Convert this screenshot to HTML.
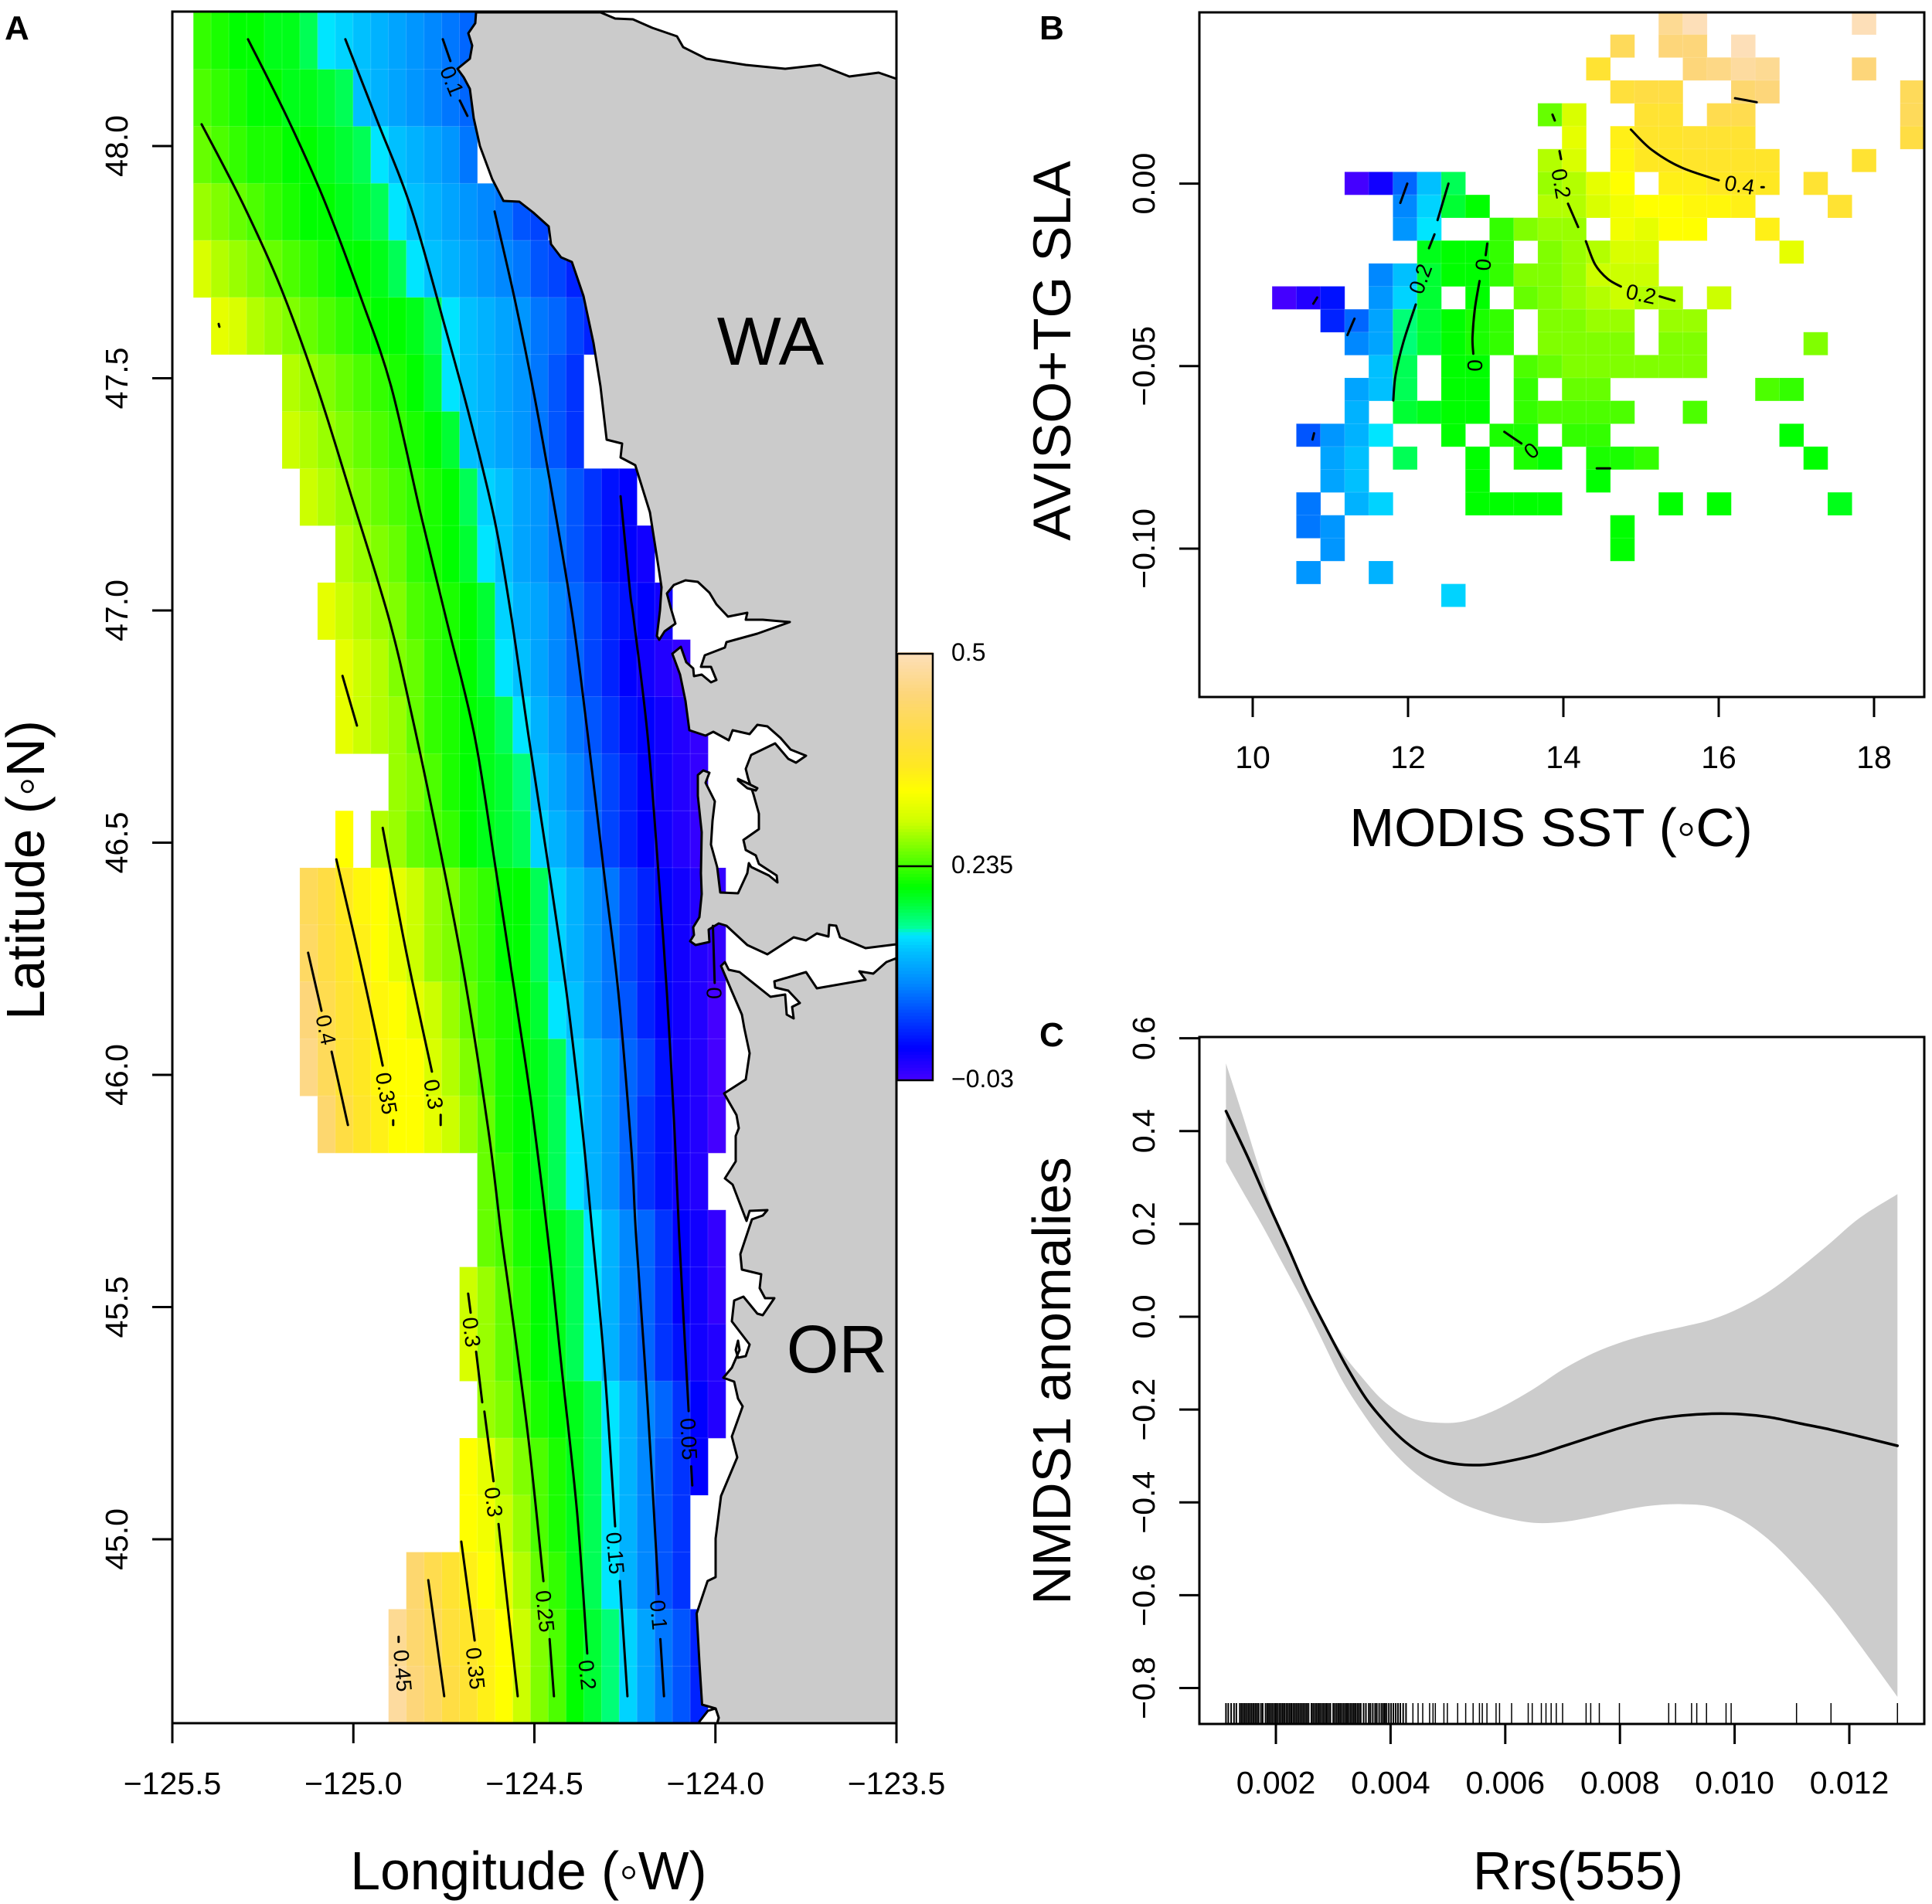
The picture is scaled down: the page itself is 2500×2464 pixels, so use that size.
<!DOCTYPE html>
<html lang="en">
<head>
<meta charset="utf-8">
<title>Ocean effect maps and smooth term</title>
<style>
html,body{margin:0;padding:0;background:#fff;}
body{width:2500px;height:2464px;overflow:hidden;}
svg{display:block;font-family:"Liberation Sans","DejaVu Sans",sans-serif;}
</style>
</head>
<body>
<svg id="chart" xmlns="http://www.w3.org/2000/svg" width="2500" height="2464" viewBox="0 0 2500 2464">
  <rect x="0" y="0" width="2500" height="2464" fill="#fff"/>
  <g id="panelA"></g>
  <g id="panelB"></g>
  <g id="panelC"></g>
</svg>
<script>
/* ---------- Shared colour scale ---------- */
const paletteValues = [-0.03,0.01,0.05,0.09,0.13,0.15,0.16,0.19,0.21,0.25,0.29,0.33,0.36,0.40,0.45,0.50];
const paletteColors = ['#4400ff','#0000ff','#0044ff','#0088ff','#00c0ff','#00e5ff','#00ff99','#00ff33','#00ff00','#66ff00','#ccff00','#ffff00','#ffe822','#ffdd44','#fdd67a','#fddfb8'];

/* ---------- Panel A data ---------- */
/* each row: first column index, then effect values x100 per cell (null = no data) */
const heatRowsA = [
[0,23,22,21,21,20,20,18,15,14,13,12,11,10,9,8,7],
[0,24,23,22,21,21,20,20,19,18,13,12,11,10,9,8,7],
[0,25,24,23,22,22,21,21,20,19,18,15,13,12,11,10,8],
[0,27,26,25,24,23,22,21,21,20,19,18,15,13,12,11,10,9,8,6,5],
[0,30,28,27,26,25,24,23,22,21,21,20,18,15,13,12,11,10,9,8,6,5,3],
[1,31,30,28,27,26,25,24,23,22,21,21,20,18,15,13,12,11,10,8,7,5,3],
[5,28,27,26,25,24,23,22,21,19,15,13,12,11,10,8,6,4],
[5,29,28,27,26,25,24,23,22,21,19,13,12,11,10,8,6,4],
[6,29,28,27,26,25,24,23,22,21,18,14,13,11,10,8,6,4,2,1],
[8,28,27,26,25,23,22,21,19,15,13,11,10,8,6,4,2,1,0],
[7,31,29,28,27,26,24,23,22,21,19,14,12,11,9,7,5,3,2,1,0],
[8,31,29,28,26,25,23,22,21,19,15,13,11,9,7,5,3,1,0,-1,-2],
[8,31,29,28,27,25,23,22,21,20,18,15,12,10,8,6,4,2,1,0,-1,-2],
[11,27,26,24,22,21,20,19,17,13,11,9,7,5,3,1,0,-1,-2],
[8,33,null,28,27,25,24,23,21,20,19,18,14,12,10,7,5,3,1,0,-1,-2],
[6,42,40,36,34,33,31,29,27,26,24,23,21,21,18,14,12,10,8,5,3,1,0,-1,-2],
[6,43,40,37,35,33,31,29,27,26,24,23,21,21,18,14,12,10,8,5,3,1,0,-1,-2],
[6,45,41,38,36,34,33,31,29,27,25,23,22,21,19,15,13,10,8,6,3,1,0,-1,-3],
[6,46,42,38,36,34,33,33,30,28,26,24,22,21,20,18,14,12,10,7,5,2,0,-1,-3],
[7,44,40,37,35,33,33,31,29,27,25,22,21,20,18,15,12,10,7,4,2,0,-1,-3],
[16,25,23,21,20,18,15,12,10,7,4,2,0,-1],
[16,25,24,22,21,20,18,15,12,9,7,4,1,0,-2],
[15,29,27,25,23,21,20,18,15,12,9,7,4,1,0,-2],
[15,30,27,25,23,21,20,18,15,12,9,7,4,2,0,-1],
[16,27,26,24,22,21,20,18,15,12,9,7,4,1,-1],
[15,33,31,28,26,24,22,20,18,15,12,9,6,4,1],
[15,33,32,29,27,24,22,20,18,15,12,9,6,4],
[12,44,41,38,35,33,31,28,25,23,20,18,15,12,9,6,4],
[11,47,44,42,39,37,35,33,29,26,24,21,19,17,14,11,8,6,3],
[11,48,45,43,40,38,35,33,29,26,24,21,19,17,14,11,8,6,3]
];
const lonTicks = [-125.5,-125,-124.5,-124,-123.5];
const lonTickLabels = ['\u2212125.5','\u2212125.0','\u2212124.5','\u2212124.0','\u2212123.5'];
const latTicks = [48,47.5,47,46.5,46,45.5,45];
const latTickLabels = ['48.0','47.5','47.0','46.5','46.0','45.5','45.0'];
const colorbarTicks = [0.5,0.235,-0.03];
const colorbarTickLabels = ['0.5','0.235','\u22120.03'];

const contourA25 = [
 [[-125.419,48.047],[-125.304,47.874],[-125.201,47.696],[-125.101,47.483],[-125.005,47.245],[-124.902,46.983],[-124.840,46.780],[-124.764,46.499],[-124.695,46.220],[-124.627,45.880],[-124.591,45.652],[-124.565,45.506],[-124.516,45.213],[-124.475,44.910]],
 [[-124.458,44.785],[-124.446,44.662]]
];
const contourA20 = [
 [[-125.291,48.230],[-125.182,48.060],[-125.080,47.882],[-124.977,47.669],[-124.896,47.483],[-124.815,47.211],[-124.744,46.983],[-124.665,46.729],[-124.606,46.440],[-124.546,46.135],[-124.507,45.930],[-124.463,45.652],[-124.426,45.378],[-124.382,45.057],[-124.354,44.754]]
];
const contourA15 = [
 [[-125.022,48.230],[-124.937,48.060],[-124.840,47.865],[-124.747,47.611],[-124.678,47.414],[-124.610,47.195],[-124.563,46.983],[-124.516,46.729],[-124.463,46.458],[-124.411,46.176],[-124.367,45.880],[-124.339,45.652],[-124.307,45.378],[-124.277,45.028]],
 [[-124.264,44.910],[-124.243,44.662]]
];
const contourA10 = [
 [[-124.610,47.859],[-124.554,47.669],[-124.501,47.466],[-124.446,47.228],[-124.394,46.983],[-124.352,46.729],[-124.307,46.431],[-124.268,46.176],[-124.232,45.837],[-124.219,45.652],[-124.187,45.286],[-124.157,44.882]],
 [[-124.152,44.785],[-124.142,44.662]],
 [[-124.753,48.230],[-124.732,48.183]],
 [[-124.706,48.098],[-124.685,48.065]]
];
const contourA05 = [
 [[-124.262,47.246],[-124.236,47.042],[-124.226,46.983],[-124.187,46.729],[-124.157,46.431],[-124.134,46.176],[-124.113,45.880],[-124.100,45.652],[-124.074,45.276]],
 [[-124.067,45.157],[-124.064,45.116]]
];
const contourA00 = [
 [[-124.007,46.321],[-124.002,46.198]]
];
const contourA30 = [
 [[-125.030,46.859],[-124.990,46.752]],
 [[-125.372,47.617],[-125.370,47.611]],
 [[-124.919,46.532],[-124.853,46.261],[-124.783,46.007]],
 [[-124.759,45.914],[-124.759,45.892]],
 [[-124.683,45.529],[-124.676,45.488]],
 [[-124.661,45.404],[-124.644,45.295]],
 [[-124.638,45.275],[-124.613,45.125]],
 [[-124.599,45.033],[-124.546,44.662]]
];
const contourA35 = [
 [[-125.047,46.464],[-124.979,46.236],[-124.919,46.020]],
 [[-124.890,45.902],[-124.890,45.892]],
 [[-124.702,44.995],[-124.665,44.782]]
];
const contourA40 = [
 [[-125.125,46.263],[-125.088,46.138]],
 [[-125.060,46.050],[-125.015,45.892]]
];
const contourA45 = [
 [[-124.793,44.912],[-124.749,44.662]],
 [[-124.875,44.790],[-124.875,44.779]]
];
const contourLabelsA = [
 ['0.1',-124.728,48.140,68],['0.4',-125.076,46.097,78],['0.35',-124.909,45.960,80],['0.3',-124.779,45.958,80],
 ['0',-124.004,46.176,90],['0.3',-124.674,45.446,83],['0.3',-124.613,45.080,83],['0.25',-124.471,44.845,84],
 ['0.2',-124.354,44.708,84],['0.15',-124.277,44.970,85],['0.1',-124.157,44.837,85],['0.05',-124.074,45.216,87],
 ['0.35',-124.663,44.722,84],['0.45',-124.864,44.717,85]
];

/* ---------- Panel B data ---------- */
/* per row from the top: alternating column index, effect value x100 */
const heatRowsB = [
[16,47,17,50,24,50],
[14,42,16,45,17,45,19,50],
[13,38,17,45,18,46,19,48,20,47,24,45],
[14,39,15,40,16,40,19,44,20,45,26,42],
[11,25,12,30,15,38,16,38,18,41,19,41,26,42],
[12,31,14,35,15,37,16,37,17,38,18,38,19,38,26,40],
[11,28,12,30,14,34,15,36,16,36,17,37,18,37,19,37,20,37,24,38],
[3,-3,4,0,5,7,6,13,7,18,11,27,12,28,13,31,14,33,16,35,17,35,18,36,19,36,20,36,22,38],
[5,9,6,14,7,19,8,21,11,28,12,28,13,30,14,32,15,33,16,33,17,34,18,34,19,35,23,38],
[5,10,6,15,9,23,10,26,11,27,12,27,14,32,15,31,16,33,17,33,20,35],
[6,20,7,21,8,21,9,23,11,26,12,27,13,28,14,30,15,30,21,31],
[4,9,5,13,6,19,7,21,8,21,9,23,10,26,11,26,12,27,13,29,14,29,15,29],
[0,-3,1,-1,2,2,4,10,5,14,6,19,8,21,10,25,11,26,12,27,13,28,14,29,15,28,16,28,18,29],
[2,3,3,7,4,11,5,17,6,19,7,21,8,22,9,23,11,26,12,26,13,27,14,27,16,27,17,27],
[3,9,4,11,5,17,6,19,7,21,8,22,9,23,11,26,12,26,13,26,14,26,16,26,17,26,22,26],
[4,13,5,18,7,21,8,21,10,24,11,25,12,26,13,26,14,26,15,26,16,26,17,26],
[3,11,4,13,5,18,7,21,8,21,10,23,12,25,13,25,20,24,21,23],
[3,12,5,19,6,20,7,21,8,21,10,23,11,24,12,24,13,24,14,24,17,24],
[1,6,2,10,3,12,4,15,7,21,9,22,10,22,12,23,13,23,21,21],
[2,11,3,13,5,18,8,21,10,22,11,21,13,22,14,22,15,23,22,21],
[2,11,3,13,8,21,13,21],
[1,8,3,12,4,14,8,21,9,21,10,21,11,21,16,21,18,21,23,20],
[1,8,2,10,14,21],
[2,10,14,21],
[1,10,4,12],
[7,14]
];
const sstTicks = [10,12,14,16,18];
const sstTickLabels = ['10','12','14','16','18'];
const slaTicks = [0,-0.05,-0.10];
const slaTickLabels = ['0.00','\u22120.05','\u22120.10'];
const contourB = [
 [[16.21,0.0234],[16.49,0.0223]],
 [[14.87,0.0148],[15.14,0.0092],[15.52,0.0044],[16.0,0.0009]],
 [[16.55,-0.001],[16.58,-0.001]],
 [[13.86,0.0189],[13.89,0.0173]],
 [[13.95,0.0089],[13.97,0.0067]],
 [[14.06,-0.0055],[14.19,-0.0119]],
 [[14.29,-0.0158],[14.41,-0.0222],[14.57,-0.0261],[14.74,-0.0282]],
 [[15.24,-0.0309],[15.43,-0.0321]],
 [[12.52,0],[12.38,-0.01]],
 [[12.34,-0.0139],[12.27,-0.0177]],
 [[12.1,-0.0331],[11.94,-0.0434],[11.84,-0.0524],[11.81,-0.0594]],
 [[11.99,0],[11.9,-0.0053]],
 [[10.83,-0.0312],[10.78,-0.0329]],
 [[11.31,-0.037],[11.22,-0.0415]],
 [[10.79,-0.0684],[10.77,-0.0701]],
 [[13.02,-0.0164],[13.0,-0.0196]],
 [[12.92,-0.0267],[12.86,-0.0344],[12.83,-0.0421],[12.84,-0.0466]],
 [[13.24,-0.068],[13.46,-0.0712]],
 [[14.43,-0.078],[14.6,-0.078]]
];
const contourLabelsB = [
 ['0.4',16.27,-0.0004,10],['0.2',13.97,0,80],['0.2',15.0,-0.0303,12],['0.2',12.16,-0.0261,-70],
 ['0',12.97,-0.0222,-85],['0',12.86,-0.0498,-90],['0',13.59,-0.0732,-40]
];

/* ---------- Panel C data ---------- */
const rrsValues = [0.00113,0.00151,0.00185,0.0022,0.00254,0.00289,0.00323,0.00357,0.00392,0.00426,0.00461,0.00495,0.00529,0.00564,0.00598,0.0065,0.00701,0.00753,0.00805,0.00856,0.00908,0.0096,0.01011,0.01063,0.01114,0.01166,0.01218,0.01284];
const smoothFit = [0.443,0.344,0.248,0.153,0.057,-0.028,-0.107,-0.176,-0.229,-0.270,-0.299,-0.313,-0.319,-0.319,-0.313,-0.299,-0.279,-0.258,-0.238,-0.222,-0.213,-0.209,-0.210,-0.217,-0.230,-0.243,-0.258,-0.278];
const ciRrs = [0.00113,0.00142,0.00177,0.00211,0.00246,0.0028,0.00314,0.00349,0.00383,0.00418,0.00452,0.00495,0.00529,0.00564,0.00598,0.0065,0.00701,0.00753,0.00805,0.00856,0.00908,0.0096,0.01011,0.01063,0.01114,0.01166,0.01218,0.01284];
const ciUpper = [0.546,0.434,0.296,0.174,0.073,-0.006,-0.075,-0.129,-0.176,-0.208,-0.224,-0.229,-0.225,-0.211,-0.192,-0.155,-0.113,-0.079,-0.054,-0.036,-0.022,-0.006,0.020,0.057,0.105,0.158,0.213,0.264];
const ciLower = [0.334,0.270,0.195,0.116,0.036,-0.049,-0.134,-0.203,-0.261,-0.309,-0.346,-0.383,-0.405,-0.421,-0.433,-0.444,-0.442,-0.431,-0.417,-0.407,-0.404,-0.410,-0.437,-0.484,-0.548,-0.622,-0.707,-0.819];
const rugRrsMilli = [1.13,1.17,1.22,1.27,1.31,1.37,1.40,1.43,1.46,1.49,1.52,1.55,1.58,1.61,1.64,1.67,1.70,1.74,1.77,1.82,1.85,1.88,1.91,1.94,1.97,2.00,2.03,2.06,2.09,2.12,2.15,2.18,2.21,2.24,2.27,2.30,2.33,2.36,2.39,2.42,2.45,2.48,2.51,2.54,2.57,2.62,2.65,2.68,2.71,2.74,2.77,2.80,2.83,2.86,2.89,2.92,2.95,3.00,3.03,3.06,3.09,3.12,3.15,3.18,3.21,3.24,3.27,3.30,3.33,3.36,3.39,3.42,3.45,3.48,3.53,3.57,3.62,3.65,3.69,3.73,3.76,3.80,3.84,3.87,3.90,3.93,3.97,4.01,4.05,4.09,4.13,4.17,4.22,4.27,4.39,4.48,4.56,4.68,4.74,4.78,4.93,4.99,5.17,5.31,5.44,5.55,5.60,5.68,5.84,5.90,6.11,6.40,6.47,6.63,6.71,6.80,6.89,7.00,7.41,7.49,7.64,7.99,8.85,8.97,9.25,9.34,9.51,9.85,9.94,11.08,11.68,12.84];
const rrsTicks = [0.002,0.004,0.006,0.008,0.010,0.012];
const rrsTickLabels = ['0.002','0.004','0.006','0.008','0.010','0.012'];
const anomalyTicks = [0.6,0.4,0.2,0,-0.2,-0.4,-0.6,-0.8];
const anomalyTickLabels = ['0.6','0.4','0.2','0.0','\u22120.2','\u22120.4','\u22120.6','\u22120.8'];

/* ---------- Helpers ---------- */
const NS = 'http://www.w3.org/2000/svg';
function add(tag, attrs, parent){
  const e = document.createElementNS(NS, tag);
  for (const k in attrs) e.setAttribute(k, attrs[k]);
  parent.appendChild(e);
  return e;
}
function addText(str, x, y, size, anchor, parent, rot, weight){
  const t = add('text', {x:x, y:y, 'font-size':size, 'text-anchor':anchor, fill:'#000'}, parent);
  if (rot) t.setAttribute('transform', 'rotate(' + rot + ' ' + x + ' ' + y + ')');
  if (weight) t.setAttribute('font-weight', weight);
  t.textContent = str;
  return t;
}
function hex(c){ return [parseInt(c.slice(1,3),16),parseInt(c.slice(3,5),16),parseInt(c.slice(5,7),16)]; }
function colorOf(v){
  if (v <= paletteValues[0]) return paletteColors[0];
  for (let i = 1; i < paletteValues.length; i++){
    if (v <= paletteValues[i]){
      const t = (v - paletteValues[i-1]) / (paletteValues[i] - paletteValues[i-1]);
      const a = hex(paletteColors[i-1]), b = hex(paletteColors[i]);
      return 'rgb(' + a.map((x,j)=>Math.round(x+(b[j]-x)*t)).join(',') + ')';
    }
  }
  return paletteColors[paletteColors.length-1];
}
/* Catmull-Rom curve through the mapped points; returns commands after the first point */
function curveThrough(px){
  let d = '';
  for (let i = 0; i < px.length - 1; i++){
    const p0 = px[Math.max(i-1,0)], p1 = px[i], p2 = px[i+1], p3 = px[Math.min(i+2,px.length-1)];
    const c1x = p1[0] + (p2[0]-p0[0])/6, c1y = p1[1] + (p2[1]-p0[1])/6;
    const c2x = p2[0] - (p3[0]-p1[0])/6, c2y = p2[1] - (p3[1]-p1[1])/6;
    d += ' C' + c1x.toFixed(1) + ' ' + c1y.toFixed(1) + ' ' + c2x.toFixed(1) + ' ' + c2y.toFixed(1) + ' ' + p2[0].toFixed(1) + ' ' + p2[1].toFixed(1);
  }
  return d;
}
function mapPts(points, xf, yf){ return points.map(p => [xf(p[0]), yf(p[1])]); }
function pathOf(points, xf, yf){
  const px = mapPts(points, xf, yf);
  return 'M' + px[0][0].toFixed(1) + ' ' + px[0][1].toFixed(1) + curveThrough(px);
}

/* ---------- Panel A ---------- */
const gA = document.getElementById('panelA');
const lonX = lon => 223 + (lon + 125.5) * 468.5;
const latY = lat => 189 + (48 - lat) * 601;
const gridLonStart = -125.442, gridLonStep = 0.04901, gridLatTop = 48.288, gridLatStep = 0.1228;

heatRowsA.forEach((row, r) => {
  for (let i = 1; i < row.length; i++){
    if (row[i] === null) continue;
    const c = row[0] + i - 1;
    const x0 = lonX(gridLonStart + c * gridLonStep), x1 = lonX(gridLonStart + (c + 1) * gridLonStep);
    const y0 = latY(gridLatTop - r * gridLatStep), y1 = latY(gridLatTop - (r + 1) * gridLatStep);
    const cell = add('rect', {x:x0.toFixed(1), y:y0.toFixed(1), width:(x1-x0+0.3).toFixed(1), height:(y1-y0+0.3).toFixed(1), fill:colorOf(row[i]/100), stroke:'rgba(255,255,255,0.13)', 'stroke-width':1}, gA);
    
    
  }
});

const landNorthPath = 'M616 16 L615 30 L606 43 L611 59 L608 76 L592 89 L600 100 L608 115 L613 153 L621 189 L637 232 L651.5 260 L672 261 L690 275 L710 293 L713 316 L726 333 L740 339 L755 383 L768 444 L777 500 L785 569 L805 574 L803 592 L822 602 L841 663 L853 740 L856 760 L854 790 L850 823 L853 828 L860 817 L874 807 L868 787 L863 768 L872 757 L887 751 L903 753 L918 767 L927 782 L942 798 L967 793 L965 802 L987 802 L1022 805 L980 820 L940 831 L938 838 L912 848 L907 863 L920 863 L927 880 L920 883 L908 873 L898 875 L897 865 L888 857 L881 837 L870 846 L880 873 L887 907 L892 945 L913 952 L923 947 L943 958 L948 945 L970 950 L980 938 L993 940 L1010 955 L1023 970 L1043 978 L1030 987 L1020 982 L1003 962 L972 977 L965 995 L968 1007 L975 1028 L982 1053 L982 1073 L962 1087 L965 1100 L978 1107 L982 1118 L1005 1133 L1006 1142 L995 1133 L972 1122 L969 1117 L967 1130 L955 1156 L932 1155 L928 1122 L920 1093 L922 1062 L925 1037 L913 1013 L918 1000 L910 997 L903 1003 L903 1030 L908 1077 L907 1130 L908 1157 L905 1187 L897 1200 L898 1210 L893 1218 L900 1223 L918 1219 L917 1203 L930 1195 L940 1198 L967 1223 L993 1235 L1027 1213 L1043 1217 L1057 1208 L1072 1212 L1073 1197 L1082 1198 L1087 1213 L1120 1227 L1160 1222 L1160 102 L1137 94 L1099 99 L1061 84 L1016 89 L965 84 L914 76 L884 61 L876 47 L844 36 L819 25 L796 24 L777 16 Z';
const landSouthPath = 'M1160 1240 L1147 1245 L1130 1260 L1112 1257 L1120 1268 L1057 1279 L1043 1258 L1002 1270 L1003 1278 L1020 1282 L1035 1298 L1025 1303 L1027 1318 L1018 1313 L1016 1287 L997 1290 L957 1258 L943 1255 L938 1245 L933 1250 L947 1283 L960 1313 L963 1330 L970 1363 L965 1397 L937 1415 L953 1443 L956 1460 L952 1470 L952 1503 L938 1525 L948 1533 L966 1580 L970 1567 L993 1566 L987 1573 L973 1578 L958 1623 L960 1643 L985 1649 L983 1667 L990 1680 L1002 1680 L987 1702 L980 1700 L962 1678 L950 1683 L947 1710 L970 1740 L965 1755 L955 1757 L952 1747 L955 1735 L957 1747 L947 1770 L936 1783 L950 1788 L955 1810 L961 1820 L947 1859 L954 1886 L933 1936 L926 1991 L926 2041 L915.6 2046 L901.5 2088 L905 2151 L908.5 2206 L926 2211 L930 2223 L928 2230 L1160 2230 Z';
const landN = add('path', {d:landNorthPath, fill:'#cbcbcb', stroke:'#000', 'stroke-width':3, 'stroke-linejoin':'round'}, gA);


const landS = add('path', {d:landSouthPath, fill:'#cbcbcb', stroke:'#000', 'stroke-width':3, 'stroke-linejoin':'round'}, gA);


const island = add('path', {d:'M955 1008 L968 1014 L980 1020 L978 1023 L967 1020 L955 1010 Z', fill:'#cbcbcb', stroke:'#000', 'stroke-width':3, 'stroke-linejoin':'round'}, gA);


const blob = add('path', {d:'M905 2228 L916 2214 L926 2211 L930 2223 L928 2230 L905 2230 Z', fill:'#fff', stroke:'#000', 'stroke-width':3, 'stroke-linejoin':'round'}, gA);



[contourA25, contourA20, contourA15, contourA10, contourA05, contourA00, contourA30, contourA35, contourA40, contourA45].forEach(level => {
  level.forEach(seg => {
    const line = add('path', {d:pathOf(seg, lonX, latY), fill:'none', stroke:'#000', 'stroke-width':3, 'stroke-linecap':'round', 'stroke-linejoin':'round'}, gA);
    
    
  });
});
contourLabelsA.forEach(l => {
  const t = addText(l[0], lonX(l[1]).toFixed(1), latY(l[2]).toFixed(1), 28, 'middle', gA, l[3]);
  t.setAttribute('dominant-baseline', 'central');
  
  
});

const boxA = add('rect', {x:223, y:15, width:937, height:2215, fill:'none', stroke:'#000', 'stroke-width':3}, gA);



lonTicks.forEach((v, i) => {
  const tick = add('line', {x1:lonX(v), x2:lonX(v), y1:2230, y2:2256, stroke:'#000', 'stroke-width':3}, gA);
  
  
  const t = addText(lonTickLabels[i], lonX(v), 2322, 41, 'middle', gA);
  
  
});
latTicks.forEach((v, i) => {
  const tick = add('line', {x1:197, x2:223, y1:latY(v), y2:latY(v), stroke:'#000', 'stroke-width':3}, gA);
  
  
  const t = addText(latTickLabels[i], 165, latY(v), 41, 'middle', gA, -90);
  
  
});

const xTitleA = addText('Longitude (\u25E6W)', 684, 2445, 69.5, 'middle', gA);


const yTitleA = addText('Latitude (\u25E6N)', 57, 1126, 69.5, 'middle', gA, -90);


const wa = addText('WA', 997, 472, 88, 'middle', gA);


const or = addText('OR', 1083, 1776, 87, 'middle', gA);


const letterA = addText('A', 6, 51, 44, 'start', gA, 0, 'bold');



/* Colour bar: upper and lower halves have separate linear scales */
const cbY = v => v >= 0.235 ? 1121 - (v - 0.235) / 0.265 * 275 : 1121 + (0.235 - v) / 0.265 * 277;
const gBar = add('g', {}, gA);


for (let v = -0.03; v < 0.5; v += 0.004){
  const y1 = cbY(v + 0.004), y0 = cbY(v);
  const s = add('rect', {x:1161, y:y1.toFixed(1), width:46, height:(y0-y1+0.6).toFixed(1), fill:colorOf(v + 0.002)}, gBar);
  
  
}
const cbFrame = add('rect', {x:1161, y:846, width:46, height:552, fill:'none', stroke:'#000', 'stroke-width':2.5}, gBar);


const cbMid = add('line', {x1:1161, x2:1207, y1:cbY(0.235), y2:cbY(0.235), stroke:'#000', 'stroke-width':2.5}, gBar);


colorbarTicks.forEach((v, i) => {
  const t = addText(colorbarTickLabels[i], 1231, cbY(v) + 9, 32, 'start', gBar);
  
  
});

/* ---------- Panel B ---------- */
const gB = document.getElementById('panelB');
const sstX = s => 1621 + (s - 10) * 100.5;
const slaY = v => 237.6 - v * 4724;
const gridSstStart = 10.25, gridSstStep = 0.311, gridSlaTop = 0.0471, gridSlaStep = 0.00627;

heatRowsB.forEach((row, r) => {
  for (let i = 0; i < row.length; i += 2){
    const c = row[i];
    const x0 = sstX(gridSstStart + c * gridSstStep), x1 = sstX(gridSstStart + (c + 1) * gridSstStep);
    const y0 = slaY(gridSlaTop - r * gridSlaStep), y1 = slaY(gridSlaTop - (r + 1) * gridSlaStep);
    const cell = add('rect', {x:x0.toFixed(1), y:y0.toFixed(1), width:(x1-x0+0.3).toFixed(1), height:(y1-y0+0.3).toFixed(1), fill:colorOf(row[i+1]/100), stroke:'rgba(255,255,255,0.13)', 'stroke-width':1}, gB);
    
    
  }
});
contourB.forEach(seg => {
  const line = add('path', {d:pathOf(seg, sstX, slaY), fill:'none', stroke:'#000', 'stroke-width':3, 'stroke-linecap':'round', 'stroke-linejoin':'round'}, gB);
  
  
});
contourLabelsB.forEach(l => {
  const t = addText(l[0], sstX(l[1]).toFixed(1), slaY(l[2]).toFixed(1), 28, 'middle', gB, l[3]);
  t.setAttribute('dominant-baseline', 'central');
  
  
});
const boxB = add('rect', {x:1552, y:16, width:938, height:886, fill:'none', stroke:'#000', 'stroke-width':3}, gB);


sstTicks.forEach((v, i) => {
  const tick = add('line', {x1:sstX(v), x2:sstX(v), y1:902, y2:928, stroke:'#000', 'stroke-width':3}, gB);
  
  
  const t = addText(sstTickLabels[i], sstX(v), 994, 41, 'middle', gB);
  
  
});
slaTicks.forEach((v, i) => {
  const tick = add('line', {x1:1526, x2:1552, y1:slaY(v), y2:slaY(v), stroke:'#000', 'stroke-width':3}, gB);
  
  
  const t = addText(slaTickLabels[i], 1494, slaY(v), 41, 'middle', gB, -90);
  
  
});
const xTitleB = addText('MODIS SST (\u25E6C)', 2007, 1095, 69.5, 'middle', gB);


const yTitleB = addText('AVISO+TG SLA', 1385, 454, 69, 'middle', gB, -90);


const letterB = addText('B', 1345, 51, 44, 'start', gB, 0, 'bold');



/* ---------- Panel C ---------- */
const gC = document.getElementById('panelC');
const rrsX = r => 1651 + (r - 0.002) * 74200;
const anomY = v => 1704 - v * 600.6;

const upperPx = mapPts(ciRrs.map((r, i) => [r, ciUpper[i]]), rrsX, anomY);
const lowerPx = mapPts(ciRrs.map((r, i) => [r, ciLower[i]]).reverse(), rrsX, anomY);
const bandPath = 'M' + upperPx[0][0].toFixed(1) + ' ' + upperPx[0][1].toFixed(1) + curveThrough(upperPx) + ' L' + lowerPx[0][0].toFixed(1) + ' ' + lowerPx[0][1].toFixed(1) + curveThrough(lowerPx) + ' Z';
const band = add('path', {d:bandPath, fill:'#cccccc', stroke:'none'}, gC);


const fitPts = rrsValues.map((r, i) => [r, smoothFit[i]]);
const fitLine = add('path', {d:pathOf(fitPts, rrsX, anomY), fill:'none', stroke:'#000', 'stroke-width':3.5, 'stroke-linejoin':'round', 'stroke-linecap':'round'}, gC);


rugRrsMilli.forEach(m => {
  const x = rrsX(m / 1000);
  const rug = add('line', {x1:x.toFixed(1), x2:x.toFixed(1), y1:2204, y2:2231, stroke:'#000', 'stroke-width':m < 4.3 ? 2 : 1.5}, gC);
  
  
});
const boxC = add('rect', {x:1552, y:1342, width:938, height:889, fill:'none', stroke:'#000', 'stroke-width':3}, gC);


rrsTicks.forEach((v, i) => {
  const tick = add('line', {x1:rrsX(v), x2:rrsX(v), y1:2231, y2:2257, stroke:'#000', 'stroke-width':3}, gC);
  
  
  const t = addText(rrsTickLabels[i], rrsX(v), 2321, 41, 'middle', gC);
  
  
});
anomalyTicks.forEach((v, i) => {
  const tick = add('line', {x1:1526, x2:1552, y1:anomY(v), y2:anomY(v), stroke:'#000', 'stroke-width':3}, gC);
  
  
  const t = addText(anomalyTickLabels[i], 1494, anomY(v), 41, 'middle', gC, -90);
  
  
});
const xTitleC = addText('Rrs(555)', 2042, 2445, 70, 'middle', gC);


const yTitleC = addText('NMDS1 anomalies', 1385, 1787, 69.5, 'middle', gC, -90);


const letterC = addText('C', 1345, 1354, 44, 'start', gC, 0, 'bold');


</script>
</body>
</html>
